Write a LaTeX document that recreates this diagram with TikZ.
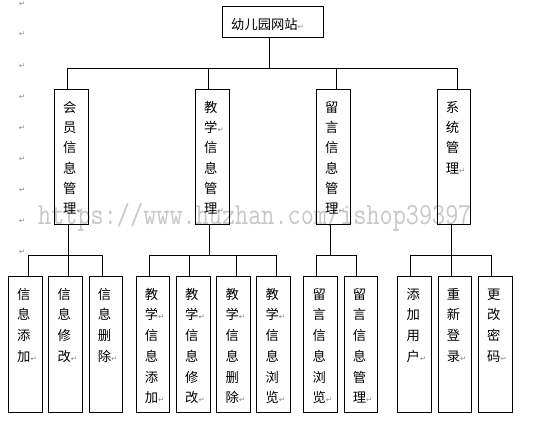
\documentclass[tikz,border=0pt]{standalone}
\usepackage{fontspec}
\usepackage{graphicx}
\newfontfamily\cjk{Noto Sans CJK SC}
\newfontfamily\dejavu{DejaVu Sans}
\newcommand{\rmk}{{\dejavu\fontsize{7.5}{7.5}\selectfont\textcolor{black!45}{↵}}}
\newcommand{\vs}{\rule{0pt}{14pt}}
\begin{document}
\begin{tikzpicture}[x=1pt,y=-1pt,
  box/.style={draw=black, line width=1pt, inner sep=0pt, anchor=north west},
  txt/.style={inner sep=0pt, anchor=north west, align=left, font=\cjk\fontsize{13.3}{20.7}\selectfont},
  txtm/.style={txt, font=\cjk\fontsize{13.3}{20.2}\selectfont},
  mk/.style={inner sep=0pt, font=\dejavu\fontsize{7.5}{7.5}\selectfont, text=black!45},
  conn/.style={draw=black, line width=1pt, line cap=rect}]
\useasboundingbox (0,0) rectangle (545,426);

% watermark (light, behind the chart)
\node[anchor=base west, inner sep=0pt, text=black!22] (wm) at (38,224.7)
  {\scalebox{1}[1.2]{\ttfamily\fontsize{25.5}{25.5}\selectfont https://www.huzhan.com/ishop39397}};

% margin paragraph marks
\foreach \i/\y in {1/4.2,2/34,3/65.7,4/96.7,5/127.7,6/159.3,7/190,8/220.7,9/252.3}
  \node[mk] (m\i) at (22,\y) {↵};

% top box
\node[box, minimum width=100.7pt, minimum height=31.3pt] (top) at (222,6) {};
\node[txt] (toptxt) at ([xshift=9pt,yshift=-9pt]top.north west) {\vs 幼儿园网站\rmk};

% level 2 boxes
\foreach \n/\x in {1/54, 2/195, 3/316, 4/436.7}
  \node[box, minimum width=33.7pt, minimum height=135pt] (L\n) at (\x,89.3) {};
\node[txtm] (L1t) at ([xshift=9pt,yshift=-9pt]L1.north west) {\vs 会\\员\\信\\息\\管\\理\rmk};
\node[txtm] (L2t) at ([xshift=9pt,yshift=-9pt]L2.north west) {\vs 教\\学\rmk\\信\\息\\管\\理\rmk};
\node[txtm] (L3t) at ([xshift=9pt,yshift=-9pt]L3.north west) {\vs 留\\言\\信\\息\\管\\理\rmk};
\node[txtm] (L4t) at ([xshift=9pt,yshift=-9pt]L4.north west) {\vs 系\\统\\管\\理\rmk};

% bottom boxes
\foreach \n/\x in {1/8, 2/48.3, 3/88.7, 4/135.7, 5/176, 6/216.3, 7/256.3, 8/303.3, 9/343.7, 10/397.3, 11/437.7, 12/478}
  \node[box, minimum width=33.7pt, minimum height=135.7pt] (b\n) at (\x,276) {};
\node[txt] (b1t) at ([xshift=9pt,yshift=-9pt]b1.north west) {\vs 信\\息\\添\\加\rmk};
\node[txt] (b2t) at ([xshift=9pt,yshift=-9pt]b2.north west) {\vs 信\\息\\修\\改\rmk};
\node[txt] (b3t) at ([xshift=9pt,yshift=-9pt]b3.north west) {\vs 信\\息\\删\\除\rmk};
\node[txt] (b4t) at ([xshift=9pt,yshift=-9pt]b4.north west) {\vs 教\\学\rmk\\信\\息\\添\\加\rmk};
\node[txt] (b5t) at ([xshift=9pt,yshift=-9pt]b5.north west) {\vs 教\\学\rmk\\信\\息\\修\\改\rmk};
\node[txt] (b6t) at ([xshift=9pt,yshift=-9pt]b6.north west) {\vs 教\\学\rmk\\信\\息\\删\\除\rmk};
\node[txt] (b7t) at ([xshift=9pt,yshift=-9pt]b7.north west) {\vs 教\\学\rmk\\信\\息\\浏\\览\rmk};
\node[txt] (b8t) at ([xshift=9pt,yshift=-9pt]b8.north west) {\vs 留\\言\\信\\息\\浏\\览\rmk};
\node[txt] (b9t) at ([xshift=9pt,yshift=-9pt]b9.north west) {\vs 留\\言\\信\\息\\管\\理\rmk};
\node[txt] (b10t) at ([xshift=9pt,yshift=-9pt]b10.north west) {\vs 添\\加\\用\\户\rmk};
\node[txt] (b11t) at ([xshift=9pt,yshift=-9pt]b11.north west) {\vs 重\\新\\登\\录\rmk};
\node[txt] (b12t) at ([xshift=9pt,yshift=-9pt]b12.north west) {\vs 更\\改\\密\\码\rmk};

% connectors top -> level 2
\coordinate (h0) at (269,68.3);
\coordinate (h1) at (67.7,68.3);
\coordinate (h2) at (208.3,68.3);
\coordinate (h3) at (336,68.3);
\coordinate (h4) at (457.7,68.3);
\draw[conn] (top.south -| h0) -- (h0);
\draw[conn] (h1) -- (h4);
\foreach \i in {1,2,3,4}
  \draw[conn] (h\i) -- (h\i |- L\i.north);

% connectors level 2 -> bottom
\coordinate (g1) at (68.3,255.3);
\coordinate (g2) at (209.3,255.3);
\coordinate (g3) at (330.3,255.3);
\coordinate (g4) at (451,255.3);
\foreach \i/\x in {1/28, 2/68.3, 3/102, 4/149, 5/189.3, 6/236.3, 7/276.3, 8/316.7, 9/356.7, 10/410.7, 11/451, 12/491.3}
  \coordinate (d\i) at (\x,255.3);
\foreach \i in {1,2,3,4}
  \draw[conn] (L\i.south -| g\i) -- (g\i);
\draw[conn] (d1) -- (d3);
\draw[conn] (d4) -- (d7);
\draw[conn] (d8) -- (d9);
\draw[conn] (d10) -- (d12);
\foreach \i in {1,...,12}
  \draw[conn] (d\i) -- (d\i |- b\i.north);
\end{tikzpicture}
\end{document}
